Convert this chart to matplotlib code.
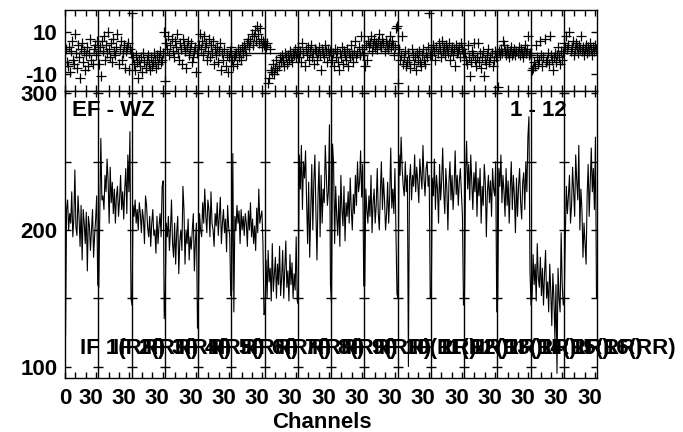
import matplotlib
matplotlib.use('Agg')
import matplotlib.pyplot as plt
import matplotlib.transforms as mtransforms
import numpy as np

plt.rcParams['font.family'] = ['Liberation Sans', 'DejaVu Sans']
plt.rcParams['font.weight'] = 'bold'
plt.rcParams['font.size'] = 16

#Plot labels
baseline = 'EF - WZ'
timerange = '1 - 12'
stokes = 'RR'
n_chan = 32

#Amplitude per IF (32 channels each)
amplitude = [
    [123, 215, 222, 200, 212, 205, 228, 195, 208, 244, 202, 196, 225, 210, 188, 218, 178, 215, 205, 190, 213, 170, 210, 203, 185, 200, 215, 180, 196, 208, 225, 160],
    [158, 210, 267, 222, 225, 215, 240, 228, 252, 236, 205, 246, 220, 235, 212, 230, 205, 225, 232, 210, 222, 240, 215, 228, 208, 230, 245, 212, 255, 228, 272, 150],
    [145, 218, 210, 222, 205, 215, 200, 220, 212, 198, 215, 208, 190, 225, 218, 202, 195, 210, 188, 205, 215, 196, 200, 183, 210, 190, 203, 212, 195, 232, 236, 135],
    [155, 205, 195, 210, 185, 200, 222, 190, 180, 205, 175, 198, 210, 168, 192, 200, 185, 232, 215, 175, 200, 190, 208, 178, 195, 186, 200, 212, 170, 192, 205, 128],
    [150, 212, 200, 195, 220, 205, 230, 210, 198, 222, 215, 195, 228, 205, 200, 188, 212, 203, 220, 196, 210, 224, 190, 205, 215, 198, 208, 184, 218, 202, 196, 152],
    [156, 256, 140, 210, 200, 218, 205, 214, 190, 215, 200, 210, 196, 212, 205, 188, 214, 200, 220, 195, 208, 190, 203, 185, 216, 198, 230, 205, 210, 214, 190, 138],
    [140, 178, 150, 185, 162, 172, 148, 190, 155, 168, 180, 150, 175, 160, 188, 152, 165, 185, 150, 172, 192, 158, 170, 148, 182, 160, 176, 150, 168, 156, 195, 148],
    [146, 255, 230, 262, 215, 250, 238, 258, 222, 190, 235, 180, 215, 248, 200, 236, 255, 212, 178, 225, 250, 195, 240, 205, 230, 220, 262, 240, 218, 228, 277, 160],
    [146, 263, 248, 190, 232, 210, 196, 225, 188, 240, 215, 203, 232, 192, 220, 210, 228, 205, 238, 215, 200, 226, 212, 240, 218, 250, 228, 235, 258, 224, 248, 159],
    [159, 230, 215, 205, 225, 210, 240, 198, 220, 230, 205, 218, 245, 212, 200, 228, 250, 215, 238, 222, 200, 212, 235, 205, 225, 260, 216, 230, 212, 245, 200, 153],
    [150, 255, 240, 268, 245, 232, 225, 250, 228, 240, 100, 236, 248, 222, 240, 232, 255, 228, 246, 235, 220, 252, 240, 230, 262, 238, 225, 245, 250, 232, 240, 150],
    [150, 238, 225, 252, 215, 240, 230, 205, 248, 222, 236, 260, 228, 212, 245, 230, 200, 235, 250, 222, 240, 215, 232, 258, 226, 240, 218, 236, 245, 228, 210, 145],
    [155, 240, 265, 230, 248, 222, 255, 236, 215, 242, 228, 250, 210, 238, 225, 245, 205, 232, 218, 248, 235, 195, 228, 240, 220, 236, 210, 245, 230, 225, 250, 140],
    [150, 245, 232, 255, 220, 240, 228, 210, 245, 218, 236, 205, 230, 250, 215, 240, 225, 198, 238, 210, 232, 245, 220, 208, 235, 242, 215, 250, 228, 268, 283, 170],
    [145, 150, 182, 160, 175, 148, 190, 165, 158, 180, 152, 172, 145, 168, 185, 150, 162, 140, 175, 155, 130, 168, 150, 120, 160, 95, 172, 150, 140, 198, 160, 145],
    [150, 195, 232, 212, 225, 240, 205, 218, 246, 228, 210, 255, 236, 222, 262, 200, 230, 215, 180, 205, 190, 175, 225, 248, 210, 235, 260, 228, 245, 215, 268, 150],
]

#Phase per IF (degrees)
phase = [
    [2, -4, -6, 3, -9, 1, 6, -3, -5, 9, 0, -7, 4, -2, -12, 2, 5, -4, 1, -8, -1, 3, -6, 0, 7, -3, -5, 2, 4, -1, 6, 1],
    [-5, 3, -11, 6, 1, 8, -3, 4, 0, 10, 2, -2, 5, -4, 7, 1, -1, 3, 9, -5, 2, 6, -3, 0, 4, -7, 1, 3, 5, -8, 2, 0],
    [19, -2, -5, -8, -1, -4, -12, -3, -6, -2, -9, 0, -4, -7, -3, -1, -5, -8, -2, -6, -4, 0, -3, -7, -1, -5, -2, 1, -4, -3, 0, 10],
    [-13, 5, 2, 8, -1, 4, 7, 1, -2, 6, 3, 9, 0, -3, 5, 2, -5, 7, 4, 1, -7, 3, 6, -1, 2, 5, -4, -2, 1, 3, -9, 0],
    [4, 9, 2, 6, -1, 8, 3, 5, -3, 1, 7, -2, 4, 0, 6, -5, 2, -1, 3, -4, 1, 5, -8, 0, -3, 2, -6, -1, -9, -2, 1, 3],
    [-3, -6, -2, -1, 0, -5, 2, -2, 1, -3, 3, 0, 4, 2, -1, 5, 7, 3, 6, 9, 4, 8, 11, 6, 13, 9, 5, 12, 7, 3, 6, 4],
    [4, 3, 5, -14, -12, 2, -8, -9, -5, -10, -7, -3, -8, -6, -2, -4, -1, -3, -6, 0, -2, -5, -1, -3, 1, -2, -4, 0, -1, 2, -2, 0],
    [3, -2, 1, -4, 5, 0, -6, 2, -1, 3, -3, 1, 4, -2, 0, -5, 2, 1, -3, 0, 3, -1, -8, 2, 0, -2, 4, 1, -4, 2, -1, 1],
    [-3, 0, -6, 2, -2, 1, -4, -8, 0, -2, 3, -5, 1, -1, -3, 2, -6, 0, -2, 4, -1, -4, 1, 6, -2, 0, 3, -1, 8, 2, -1, 0],
    [-6, 4, -3, 6, 3, 5, 8, 1, 4, 7, 3, 5, 2, 6, 9, 4, 3, 7, 5, 1, 6, 4, 2, 5, 8, 3, 6, 4, -1, 3, 12, 13],
    [-14, 2, -3, -1, 8, -5, -2, 1, -6, -4, 0, -3, -7, 2, -1, -5, -2, -8, 0, -3, 1, -4, -6, -1, 2, -3, -5, 0, -2, 3, 19, -1],
    [2, -1, 4, 1, -3, 3, 0, 5, 2, -2, 6, 1, 3, -1, 4, 2, 0, 5, -3, 1, 3, -1, 2, -6, 4, 0, 1, 3, -2, 5, 2, 0],
    [0, -3, -5, 4, -2, -11, -4, 1, -1, 5, -3, -6, -2, 5, -4, 0, -7, -2, 1, -11, -3, -5, -1, 2, -4, -2, 0, -6, -3, 1, -2, 0],
    [-16, 1, -1, 2, 0, 6, 4, 1, -1, 2, 0, -2, 1, 3, -1, 0, 2, -1, 1, 0, 3, -1, 2, 0, -2, 1, 4, 0, 2, 8, -1, 0],
    [-1, -8, -7, -4, -6, 4, -2, -5, -3, 6, -1, -6, -2, 7, -4, -3, 0, -5, 8, -1, -3, -8, -2, 0, -4, -1, 3, -2, -5, 1, -3, 0],
    [5, 3, 8, 2, 4, 10, 1, 3, 6, -1, 2, 5, 3, 0, 4, 2, 8, 1, 3, -1, 2, 4, 0, 3, 1, 5, 2, -1, 3, 1, 4, 2],
]

n_if = len(amplitude)
x = np.arange(n_if * n_chan) + 0.5
amp = np.concatenate(amplitude)
ph = np.concatenate(phase)
bounds = [n_chan * k for k in range(1, n_if)]

fig = plt.figure(figsize=(6.83, 4.32), dpi=100)
ax_ph = fig.add_axes([65/683, 1-91/432, 532/683, 81/432])
ax_amp = fig.add_axes([65/683, 1-378/432, 532/683, 287/432])

for ax in (ax_ph, ax_amp):
    ax.set_xlim(0, n_if * n_chan)
    for b in bounds:
        ax.axvline(b, color='k', lw=1.0)
    for s in ax.spines.values():
        s.set_linewidth(1.0)
    ax.set_xticks([0] + [n_chan * k + 30 for k in range(n_if)])
    ax.set_xticks([n_chan * k + m for k in range(n_if) for m in (10, 20)], minor=True)
    ax.tick_params(which='both', direction='in', top=True, right=True,
                   length=4, width=1, colors='k')

#Phase panel
ax_ph.plot(x, ph, ls='none', marker='+', ms=7, mew=0.9, color='k')
ax_ph.axhline(0, color='k', lw=1.0)
ax_ph.set_ylim(-18, 20.6)
ax_ph.set_yticks([-10, 10])
ax_ph.set_yticklabels(['-10', '10'])
ax_ph.tick_params(axis='x', labelbottom=False)
ax_ph.tick_params(axis='y', pad=5.5)

#Amplitude panel
ax_amp.plot(x, amp, color='k', lw=0.8)
ax_amp.set_ylim(91.6, 301.8)
ax_amp.set_yticks([100, 200, 300])
ax_amp.set_yticks([150, 250], minor=True)
ax_amp.tick_params(axis='y', pad=5.5)
ax_amp.tick_params(axis='x', pad=7)
ax_amp.set_xticklabels(['0'] + ['30'] * n_if)
shift = mtransforms.ScaledTranslation(-5.5/100, 0, fig.dpi_scale_trans)
for lab in ax_amp.get_xticklabels()[1:]:
    lab.set_transform(lab.get_transform() + shift)

#Tick crosses on every IF boundary
for yv in [100, 150, 200, 250, 300]:
    ax_amp.plot(bounds, [yv] * len(bounds), ls='none', marker='_', ms=7.5, mew=1, color='k')

ax_amp.text(0.013, 0.931, baseline, transform=ax_amp.transAxes, ha='left', va='center')
ax_amp.text(0.836, 0.931, timerange, transform=ax_amp.transAxes, ha='left', va='center')
for i in range(n_if):
    ax_amp.text(14.0 + n_chan * i, 113, 'IF %d(%s)' % (i + 1, stokes),
                ha='left', va='center', clip_on=False)

fig.text(322/683, 1-422/432, 'Channels', ha='center', va='center')

fig.savefig('out.png', dpi=100)
